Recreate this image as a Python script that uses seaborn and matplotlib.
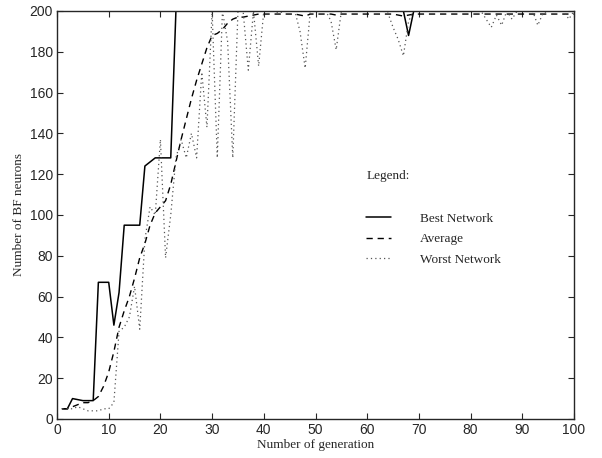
import numpy as np
import pandas as pd
import seaborn as sns
from matplotlib import pyplot as plt

# generations 1..100
generation = list(range(1, 101))

best = [5, 5, 10, 9.5, 9, 9, 9, 67, 67, 67,
        46, 62, 95, 95, 95, 95, 124, 126, 128, 128,
        128, 128, 200, 200, 200, 200, 200, 200, 200, 200,
        200, 200, 200, 200, 200, 200, 200, 200, 200, 200,
        200, 200, 200, 200, 200, 200, 200, 200, 200, 200,
        200, 200, 200, 200, 200, 200, 200, 200, 200, 200,
        200, 200, 200, 200, 200, 200, 200, 188, 200, 200,
        200, 200, 200, 200, 200, 200, 200, 200, 200, 200,
        200, 200, 200, 200, 200, 200, 200, 200, 200, 200,
        200, 200, 200, 200, 200, 200, 200, 200, 200, 200]

average = [5, 5, 6, 7, 8, 8, 9, 11, 16, 23,
           33, 45, 53, 60, 69, 79, 86, 95, 101, 104,
           107, 115, 126, 137, 147, 157, 166, 174, 182, 188,
           189, 191, 194, 196, 197, 197, 197.5, 198, 198.5, 198.5,
           198.5, 198.5, 198.5, 198.5, 198.5, 198.5, 198, 197.5, 198.5, 198.5,
           198.5, 198.5, 198.5, 198, 198.5, 198.5, 198.5, 198.5, 198.5, 198.5,
           198.5, 198.5, 198.5, 198.5, 198.5, 198, 197.5, 198, 198.5, 198.5,
           198.5, 198.5, 198.5, 198.5, 198.5, 198.5, 198.5, 198.5, 198.5, 198.5,
           198.5, 198.5, 198.5, 198.5, 198.5, 198.5, 198.5, 198.5, 198.5, 198.5,
           198.5, 198.5, 198.5, 198.5, 198.5, 198.5, 198.5, 198.5, 198.5, 198.5]

worst = [5, 5, 5, 6, 5, 4, 4, 4, 5, 5,
         8, 43, 45, 50, 65, 44, 88, 104, 100, 137,
         79, 100, 128, 137, 128, 140, 128, 170, 143, 200,
         128, 200, 185, 128, 200, 200, 171, 200, 173, 200,
         200, 200, 199, 200, 200, 200, 190, 172, 200, 200,
         200, 200, 195, 181, 200, 200, 200, 200, 200, 200,
         200, 200, 200, 199, 192, 186, 178, 195, 200, 200,
         200, 200, 200, 200, 200, 200, 200, 200, 200, 200,
         200, 200, 196, 192, 198, 193, 200, 196, 200, 200,
         200, 200, 193, 199, 200, 200, 200, 200, 196, 200]

series_names = ["Best Network", "Average", "Worst Network"]

sns.set_style("ticks")
plt.rcParams["font.family"] = ["Liberation Sans", "DejaVu Sans"]

fig, ax = plt.subplots(figsize=(6.02, 4.58), dpi=100)
fig.subplots_adjust(left=0.0947, right=0.9535, bottom=0.0852, top=0.976)

sns.lineplot(x=generation, y=best, ax=ax, color="black", linewidth=1.1,
             label=series_names[0])
sns.lineplot(x=generation, y=average, ax=ax, color="black", linewidth=1.0,
             linestyle=(0, (4.5, 3.5)), label=series_names[1])
sns.lineplot(x=generation, y=worst, ax=ax, color="#555555", linewidth=0.9,
             linestyle=(0, (1, 2.5)), label=series_names[2])

ax.set_xlim(0, 100)
ax.set_ylim(0, 200)
ax.set_xticks(np.arange(0, 101, 10))
ax.set_yticks(np.arange(0, 201, 20))
ax.tick_params(direction="in", top=True, right=True, length=4, width=0.8,
               labelsize=10, pad=3)
for sp in ax.spines.values():
    sp.set_linewidth(1.0)

serif = {"family": "Liberation Serif", "size": 9.5}
ax.set_xlabel("Number of generation", fontdict=serif, labelpad=1)
ax.set_ylabel("Number of BF neurons", fontdict=serif, labelpad=3)

# legend block
ax.text(0.599, 0.596, "Legend:", transform=ax.transAxes, va="center",
        ha="left", **serif)
ax.legend(loc="upper left", bbox_to_anchor=(0.598, 0.506), frameon=False,
          handlelength=1.9, handletextpad=2.2, labelspacing=0.62,
          borderpad=0, borderaxespad=0,
          prop={"family": "Liberation Serif", "size": 9.5})

plt.savefig("out.png", dpi=100)
